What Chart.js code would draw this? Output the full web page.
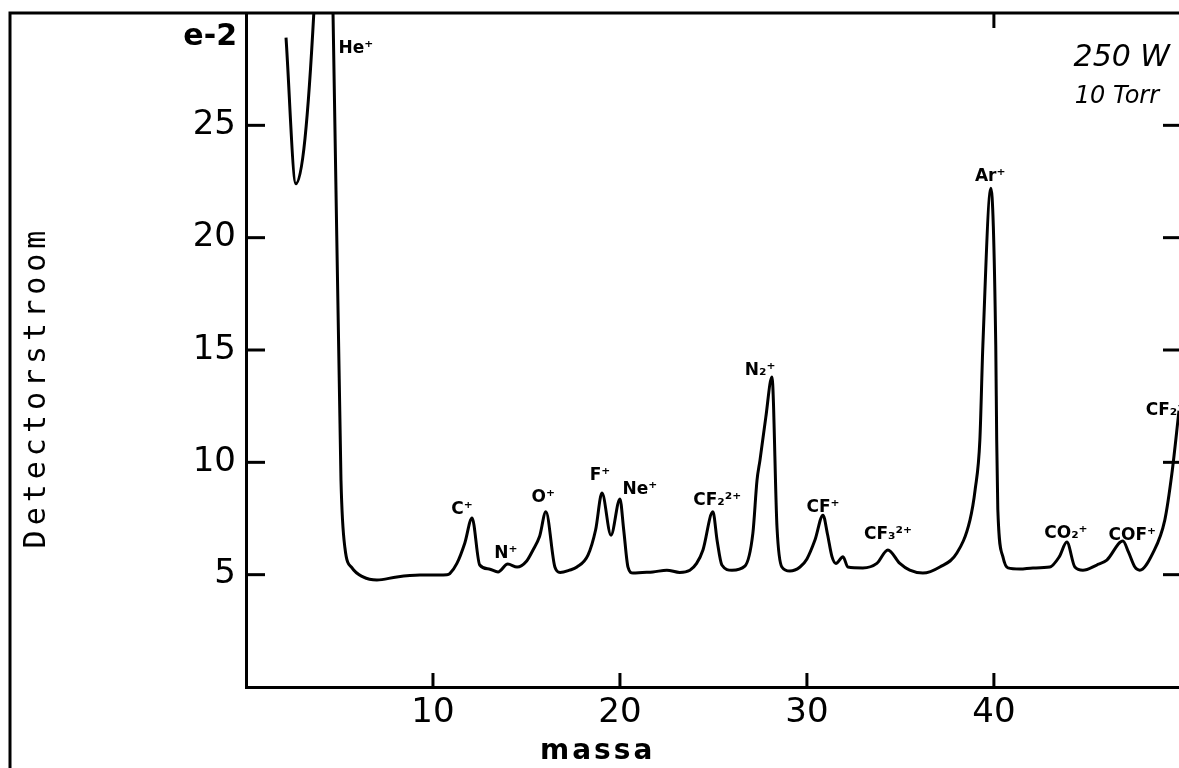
<!DOCTYPE html>
<html>
<head>
<meta charset="utf-8">
<script src="https://cdn.jsdelivr.net/npm/chart.js@4"></script>
<style>
  html, body { margin: 0; padding: 0; background: #fff; }
  #wrap { position: relative; width: 1179px; height: 768px; }
</style>
</head>
<body>
<div id="wrap"><canvas id="spectrum"></canvas></div>
<script>
// ── Massaspectrum: detectorstroom (e-2) tegen massa ──
const massa = [2.14, 2.67, 3.64, 4.15, 4.65, 5.08, 5.29, 5.67, 6.26, 7.0, 8.07, 9.3, 10.75, 10.9, 11.28, 11.7,
  12.09, 12.5, 13.0, 13.48, 14.0, 14.5, 15.0, 15.35, 15.7, 16.04, 16.52, 16.8, 17.3, 17.7, 18.29, 18.7,
  19.04, 19.52, 20.0, 20.2, 20.43, 20.7, 21.2, 21.76, 22.51, 23.2, 23.74, 24.1, 24.44, 24.97, 25.2, 25.45,
  25.99, 26.68, 27.11, 27.33, 27.49, 27.8, 28.13, 28.4, 28.66, 29.09, 29.63, 30.0, 30.43, 30.86, 31.1,
  31.34, 31.55, 31.93, 32.19, 32.99, 33.74, 34.33, 34.97, 35.5, 36.2, 37.11, 38.02, 38.72, 39.0, 39.25,
  39.41, 39.84, 40.1, 40.15, 40.21, 40.48, 40.75, 41.4, 42.09, 42.99, 43.5, 43.9, 44.33, 44.76, 45.5,
  46.04, 46.9, 47.2, 47.54, 47.8, 48.5, 49.14, 49.52, 49.9];

const stroom = [28.9, 22.4, 30.2, 42, 30.2, 9.2, 6.2, 5.3, 4.9, 4.76, 4.9, 4.98, 5.0, 5.05, 5.5, 6.4,
  7.52, 5.43, 5.25, 5.12, 5.47, 5.34, 5.6, 6.1, 6.7, 7.8, 5.34, 5.1, 5.2, 5.34, 5.87, 7.0,
  8.63, 6.76, 8.37, 7.0, 5.34, 5.07, 5.1, 5.12, 5.2, 5.1, 5.2, 5.5, 6.1, 7.8, 6.5, 5.43,
  5.2, 5.38, 6.85, 9.2, 10.1, 12.0, 13.8, 7.1, 5.34, 5.16, 5.34, 5.7, 6.54, 7.65, 6.8,
  5.8, 5.5, 5.8, 5.34, 5.3, 5.5, 6.1, 5.5, 5.2, 5.07, 5.34, 5.96, 7.43, 8.8, 11.0,
  15.2, 22.2, 15.2, 11.0, 7.9, 5.8, 5.3, 5.25, 5.3, 5.34, 5.8, 6.45, 5.34, 5.2, 5.43,
  5.65, 6.5, 6.0, 5.34, 5.2, 5.96, 7.43, 9.5, 12.3];

const xTicks = [10, 20, 30, 40];
const yTicks = [5, 10, 15, 20, 25];
const topTicks = [40];

// piek-labels (positie in data-coördinaten)
const piekNamen  = ['He⁺', 'C⁺', 'N⁺', 'O⁺', 'F⁺', 'Ne⁺', 'CF₂²⁺', 'N₂⁺', 'CF⁺', 'CF₃²⁺', 'Ar⁺', 'CO₂⁺', 'COF⁺', 'CF₂⁺'];
const piekMassa  = [5.88, 11.55, 13.9, 15.9, 18.93, 21.07, 25.2, 27.5, 30.86, 34.33, 39.8, 43.85, 47.4, 49.2];
const piekHoogte = [28.4, 7.9, 5.96, 8.45, 9.4, 8.77, 8.3, 14.1, 7.97, 6.8, 22.7, 6.85, 6.76, 12.3];

const condities = ['250 W', '10 Torr'];

function lijn(ctx, x1, y1, x2, y2) {
    ctx.beginPath();
    ctx.moveTo(x1, y1);
    ctx.lineTo(x2, y2);
    ctx.stroke();
}

// geen extra ruimte rond de as-labels
function geenPadding(s) {
    s.paddingTop = 0;
    s.paddingBottom = 0;
    s.paddingLeft = 0;
    s.paddingRight = 0;
}

const decorPlugin = {
    id: 'decor',
    beforeDraw(chart) {
        const ctx = chart.ctx;
        ctx.save();
        ctx.fillStyle = '#fff';
        ctx.fillRect(0, 0, chart.width, chart.height);
        ctx.restore();
    },
    afterDraw(chart) {
        const { ctx, chartArea: a, scales: { x, y } } = chart;
        ctx.save();
        ctx.strokeStyle = '#000';
        ctx.fillStyle = '#000';
        ctx.lineWidth = 3;

        // kader: bovenlijn + linker buitenlijn
        ctx.beginPath();
        ctx.moveTo(10, chart.height);
        ctx.lineTo(10, a.top);
        ctx.lineTo(chart.width, a.top);
        ctx.stroke();

        // naar binnen wijzende tickjes
        xTicks.forEach(v => {
            const px = x.getPixelForValue(v);
            lijn(ctx, px, a.bottom, px, a.bottom - 14);
        });
        topTicks.forEach(v => {
            const px = x.getPixelForValue(v);
            lijn(ctx, px, a.top, px, a.top + 15);
        });
        yTicks.forEach(v => {
            const py = y.getPixelForValue(v);
            lijn(ctx, a.left, py, a.left + 19, py);
            lijn(ctx, a.right, py, a.right - 16, py);
        });

        // e-2 schaalfactor
        ctx.font = 'bold 30px "DejaVu Sans"';
        ctx.textAlign = 'right';
        ctx.textBaseline = 'middle';
        ctx.fillText('e-2', a.left - 9, 37);

        // astitels
        ctx.textAlign = 'center';
        ctx.font = 'bold 28px "DejaVu Sans"';
        ctx.letterSpacing = '3px';
        ctx.fillText('massa', x.getPixelForValue(18.7) + 2, 752);

        ctx.save();
        ctx.translate(37, 390);
        ctx.rotate(-Math.PI / 2);
        ctx.font = '30px "DejaVu Sans Mono"';
        ctx.letterSpacing = '5px';
        ctx.fillText('Detectorstroom', 3, 0);
        ctx.restore();
        ctx.letterSpacing = '0px';

        // piek-labels
        ctx.font = 'bold 17px "DejaVu Sans"';
        piekNamen.forEach((naam, i) => {
            ctx.fillText(naam, x.getPixelForValue(piekMassa[i]), y.getPixelForValue(piekHoogte[i]));
        });

        // handgeschreven condities
        ctx.font = 'italic 30px "DejaVu Sans"';
        ctx.fillText(condities[0], x.getPixelForValue(46.84), y.getPixelForValue(27.99));
        ctx.font = 'italic 24px "DejaVu Sans"';
        ctx.fillText(condities[1], x.getPixelForValue(46.58), y.getPixelForValue(26.26));
        ctx.restore();
    }
};

Chart.defaults.font.family = '"DejaVu Sans"';
Chart.defaults.color = '#000';

new Chart(document.getElementById('spectrum'), {
    type: 'line',
    data: {
        datasets: [{
            data: massa.map((m, i) => ({ x: m, y: stroom[i] })),
            borderColor: '#000',
            borderWidth: 3,
            pointRadius: 0,
            cubicInterpolationMode: 'monotone',
            fill: false,
        }],
    },
    options: {
        responsive: true,
        maintainAspectRatio: false,
        animation: false,
        layout: { padding: { top: 13, left: 0, right: 0, bottom: 0 } },
        plugins: { legend: { display: false }, tooltip: { enabled: false } },
        scales: {
            x: {
                type: 'linear',
                min: 0,
                max: 49.9,
                afterBuildTicks: s => { s.ticks = xTicks.map(v => ({ value: v })); },
                afterFit: s => { s.height = 81; geenPadding(s); },
                grid: { display: false, drawTicks: false },
                border: { display: true, color: '#000', width: 3 },
                ticks: { font: { size: 34 }, padding: 6, maxRotation: 0, autoSkip: false },
            },
            y: {
                min: 0,
                max: 30,
                afterBuildTicks: s => { s.ticks = yTicks.map(v => ({ value: v })); },
                afterFit: s => { s.width = 246; geenPadding(s); },
                grid: { display: false, drawTicks: false },
                border: { display: true, color: '#000', width: 3 },
                ticks: { font: { size: 34 }, padding: 10, autoSkip: false },
            },
        },
    },
    plugins: [decorPlugin],
});
</script>
</body>
</html>
